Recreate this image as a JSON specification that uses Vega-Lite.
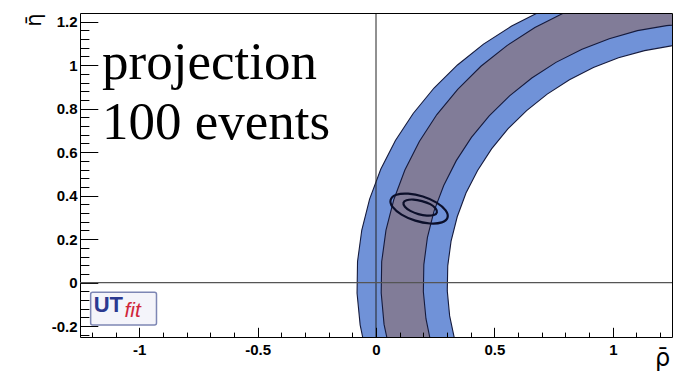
{
  "$schema": "https://vega.github.io/schema/vega-lite/v6.json",
  "width": 592,
  "height": 324,
  "autosize": "none",
  "padding": {"left": 80, "top": 13, "right": 8, "bottom": 34},
  "background": "white",
  "view": {"stroke": null},
  "datasets": {
    "blue": [
      {"i": 0, "rho": -0.040, "eta": -0.337}, {"i": 1, "rho": -0.067, "eta": -0.194}, {"i": 2, "rho": -0.080, "eta": -0.049},
      {"i": 3, "rho": -0.078, "eta": 0.097}, {"i": 4, "rho": -0.060, "eta": 0.242}, {"i": 5, "rho": -0.027, "eta": 0.384},
      {"i": 6, "rho": 0.020, "eta": 0.521}, {"i": 7, "rho": 0.082, "eta": 0.654}, {"i": 8, "rho": 0.157, "eta": 0.778},
      {"i": 9, "rho": 0.245, "eta": 0.895}, {"i": 10, "rho": 0.344, "eta": 1.001}, {"i": 11, "rho": 0.454, "eta": 1.097},
      {"i": 12, "rho": 0.573, "eta": 1.180}, {"i": 13, "rho": 0.701, "eta": 1.251}, {"i": 14, "rho": 0.835, "eta": 1.308},
      {"i": 15, "rho": 0.974, "eta": 1.351}, {"i": 16, "rho": 1.117, "eta": 1.378}, {"i": 17, "rho": 1.262, "eta": 1.391},
      {"i": 18, "rho": 1.408, "eta": 1.389}, {"i": 19, "rho": 1.553, "eta": 1.371},
      {"i": 20, "rho": 1.591, "eta": 1.083}, {"i": 21, "rho": 1.477, "eta": 1.097}, {"i": 22, "rho": 1.362, "eta": 1.099},
      {"i": 23, "rho": 1.247, "eta": 1.089}, {"i": 24, "rho": 1.134, "eta": 1.067}, {"i": 25, "rho": 1.024, "eta": 1.034},
      {"i": 26, "rho": 0.918, "eta": 0.989}, {"i": 27, "rho": 0.817, "eta": 0.933}, {"i": 28, "rho": 0.723, "eta": 0.867},
      {"i": 29, "rho": 0.636, "eta": 0.791}, {"i": 30, "rho": 0.557, "eta": 0.707}, {"i": 31, "rho": 0.488, "eta": 0.615},
      {"i": 32, "rho": 0.429, "eta": 0.516}, {"i": 33, "rho": 0.380, "eta": 0.412}, {"i": 34, "rho": 0.343, "eta": 0.303},
      {"i": 35, "rho": 0.317, "eta": 0.191}, {"i": 36, "rho": 0.303, "eta": 0.077}, {"i": 37, "rho": 0.301, "eta": -0.038},
      {"i": 38, "rho": 0.311, "eta": -0.153}, {"i": 39, "rho": 0.333, "eta": -0.266}
    ],
    "dark": [
      {"i": 0, "rho": 0.062, "eta": -0.335}, {"i": 1, "rho": 0.034, "eta": -0.192}, {"i": 2, "rho": 0.022, "eta": -0.048},
      {"i": 3, "rho": 0.024, "eta": 0.096}, {"i": 4, "rho": 0.042, "eta": 0.240}, {"i": 5, "rho": 0.075, "eta": 0.381},
      {"i": 6, "rho": 0.122, "eta": 0.518}, {"i": 7, "rho": 0.183, "eta": 0.649}, {"i": 8, "rho": 0.257, "eta": 0.773},
      {"i": 9, "rho": 0.345, "eta": 0.889}, {"i": 10, "rho": 0.443, "eta": 0.995}, {"i": 11, "rho": 0.553, "eta": 1.090},
      {"i": 12, "rho": 0.671, "eta": 1.173}, {"i": 13, "rho": 0.798, "eta": 1.243}, {"i": 14, "rho": 0.931, "eta": 1.300},
      {"i": 15, "rho": 1.069, "eta": 1.342}, {"i": 16, "rho": 1.212, "eta": 1.370}, {"i": 17, "rho": 1.356, "eta": 1.382},
      {"i": 18, "rho": 1.501, "eta": 1.380}, {"i": 19, "rho": 1.644, "eta": 1.362},
      {"i": 20, "rho": 1.600, "eta": 1.176}, {"i": 21, "rho": 1.476, "eta": 1.191}, {"i": 22, "rho": 1.351, "eta": 1.193},
      {"i": 23, "rho": 1.227, "eta": 1.182}, {"i": 24, "rho": 1.104, "eta": 1.159}, {"i": 25, "rho": 0.985, "eta": 1.122},
      {"i": 26, "rho": 0.870, "eta": 1.073}, {"i": 27, "rho": 0.760, "eta": 1.013}, {"i": 28, "rho": 0.658, "eta": 0.941},
      {"i": 29, "rho": 0.564, "eta": 0.859}, {"i": 30, "rho": 0.478, "eta": 0.767}, {"i": 31, "rho": 0.403, "eta": 0.668},
      {"i": 32, "rho": 0.339, "eta": 0.561}, {"i": 33, "rho": 0.286, "eta": 0.447}, {"i": 34, "rho": 0.245, "eta": 0.329},
      {"i": 35, "rho": 0.217, "eta": 0.207}, {"i": 36, "rho": 0.202, "eta": 0.083}, {"i": 37, "rho": 0.200, "eta": -0.042},
      {"i": 38, "rho": 0.211, "eta": -0.166}, {"i": 39, "rho": 0.234, "eta": -0.289}
    ],
    "ellipses": [
      {"c": "outer", "i": 0, "rho": 0.302, "eta": 0.299}, {"c": "outer", "i": 1, "rho": 0.278, "eta": 0.277},
      {"c": "outer", "i": 2, "rho": 0.228, "eta": 0.272}, {"c": "outer", "i": 3, "rho": 0.166, "eta": 0.285},
      {"c": "outer", "i": 4, "rho": 0.108, "eta": 0.313}, {"c": "outer", "i": 5, "rho": 0.070, "eta": 0.348},
      {"c": "outer", "i": 6, "rho": 0.062, "eta": 0.381}, {"c": "outer", "i": 7, "rho": 0.086, "eta": 0.404},
      {"c": "outer", "i": 8, "rho": 0.136, "eta": 0.409}, {"c": "outer", "i": 9, "rho": 0.198, "eta": 0.396},
      {"c": "outer", "i": 10, "rho": 0.256, "eta": 0.368}, {"c": "outer", "i": 11, "rho": 0.294, "eta": 0.332},
      {"c": "inner", "i": 0, "rho": 0.257, "eta": 0.323}, {"c": "inner", "i": 1, "rho": 0.244, "eta": 0.311},
      {"c": "inner", "i": 2, "rho": 0.215, "eta": 0.308}, {"c": "inner", "i": 3, "rho": 0.179, "eta": 0.315},
      {"c": "inner", "i": 4, "rho": 0.145, "eta": 0.330}, {"c": "inner", "i": 5, "rho": 0.122, "eta": 0.349},
      {"c": "inner", "i": 6, "rho": 0.116, "eta": 0.367}, {"c": "inner", "i": 7, "rho": 0.129, "eta": 0.379},
      {"c": "inner", "i": 8, "rho": 0.158, "eta": 0.382}, {"c": "inner", "i": 9, "rho": 0.194, "eta": 0.375},
      {"c": "inner", "i": 10, "rho": 0.229, "eta": 0.361}, {"c": "inner", "i": 11, "rho": 0.251, "eta": 0.342}
    ]
  },
  "resolve": {"axis": {"x": "independent", "y": "independent"}},
  "layer": [
    {
      "data": {"name": "blue"},
      "mark": {"type": "line", "fill": "#7092d8", "stroke": "#151a3c", "strokeWidth": 1.1, "clip": true, "interpolate": "linear"},
      "encoding": {
        "x": {"field": "rho", "type": "quantitative", "scale": {"domain": [-1.25, 1.25], "nice": false, "zero": false},
          "axis": {"orient": "bottom", "values": [-1, -0.5, 0, 0.5, 1], "tickSize": -9.7, "tickColor": "black", "labelPadding": 15.2,
            "labelExpr": "'' + datum.value", "labelFont": "Liberation Sans", "labelFontWeight": "bold", "labelFontSize": 15, "labelColor": "black",
            "domain": true, "domainColor": "black", "grid": false, "zindex": 1,
            "title": "ρ̄", "titleFont": "DejaVu Sans", "titleFontSize": 24, "titleFontWeight": "normal", "titleColor": "black",
            "titleX": 582, "titleY": 28, "titleAlign": "center", "titleBaseline": "alphabetic", "titleAnchor": null}},
        "y": {"field": "eta", "type": "quantitative", "scale": {"domain": [-0.25, 1.24], "nice": false, "zero": false},
          "axis": {"orient": "left", "values": [-0.2, 0, 0.2, 0.4, 0.6, 0.8, 1, 1.2], "tickSize": -17.8, "tickColor": "black", "labelPadding": 20.8,
            "labelExpr": "'' + datum.value", "labelFont": "Liberation Sans", "labelFontWeight": "bold", "labelFontSize": 15, "labelColor": "black",
            "domain": true, "domainColor": "black", "grid": false, "zindex": 0,
            "title": "η̄", "titleFont": "DejaVu Sans", "titleFontSize": 21, "titleFontWeight": "normal", "titleColor": "black",
            "titleX": -40, "titleY": 0, "titleAngle": 270, "titleAlign": "right", "titleBaseline": "alphabetic", "titleAnchor": null}},
        "order": {"field": "i", "type": "quantitative"}
      }
    },
    {
      "data": {"name": "dark"},
      "mark": {"type": "line", "fill": "#817c98", "stroke": "#151a3c", "strokeWidth": 1.1, "clip": true, "interpolate": "linear"},
      "encoding": {
        "x": {"field": "rho", "type": "quantitative", "scale": {"domain": [-1.25, 1.25], "nice": false, "zero": false},
          "axis": {"orient": "bottom", "values": [-1.2, -1.1, -0.9, -0.8, -0.7, -0.6, -0.4, -0.3, -0.2, -0.1, 0.1, 0.2, 0.3, 0.4, 0.6, 0.7, 0.8, 0.9, 1.1, 1.2],
            "tickSize": -4.9, "tickColor": "black", "labels": false, "domain": false, "grid": false, "title": null, "zindex": 1}},
        "y": {"field": "eta", "type": "quantitative", "scale": {"domain": [-0.25, 1.24], "nice": false, "zero": false},
          "axis": {"orient": "left", "values": [-0.24, -0.16, -0.12, -0.08, -0.04, 0.04, 0.08, 0.12, 0.16, 0.24, 0.28, 0.32, 0.36, 0.44, 0.48, 0.52, 0.56, 0.64, 0.68, 0.72, 0.76, 0.84, 0.88, 0.92, 0.96, 1.04, 1.08, 1.12, 1.16],
            "tickSize": -8.9, "tickColor": "black", "labels": false, "domain": false, "grid": false, "title": null, "zindex": 0}},
        "order": {"field": "i", "type": "quantitative"}
      }
    },
    {
      "data": {"values": [{"v": 0}]},
      "mark": {"type": "rule", "stroke": "#222222", "strokeWidth": 1},
      "encoding": {
        "x": {"field": "v", "type": "quantitative", "scale": {"domain": [-1.25, 1.25], "nice": false, "zero": false}, "axis": null}
      }
    },
    {
      "data": {"values": [{"v": 0}]},
      "mark": {"type": "rule", "stroke": "#555555", "strokeWidth": 1.2},
      "encoding": {
        "y": {"field": "v", "type": "quantitative", "scale": {"domain": [-0.25, 1.24], "nice": false, "zero": false}, "axis": null}
      }
    },
    {
      "data": {"name": "ellipses"},
      "mark": {"type": "line", "interpolate": "cardinal-closed", "stroke": "#0b0f2a", "strokeWidth": 2.2},
      "encoding": {
        "x": {"field": "rho", "type": "quantitative", "scale": {"domain": [-1.25, 1.25], "nice": false, "zero": false},
          "axis": {"orient": "top", "ticks": false, "labels": false, "domain": true, "domainColor": "black", "grid": false, "title": null, "zindex": 1}},
        "y": {"field": "eta", "type": "quantitative", "scale": {"domain": [-0.25, 1.24], "nice": false, "zero": false},
          "axis": {"orient": "right", "ticks": false, "labels": false, "domain": true, "domainColor": "black", "grid": false, "title": null, "zindex": 1}},
        "detail": {"field": "c", "type": "nominal"},
        "order": {"field": "i", "type": "quantitative"}
      }
    },
    {
      "data": {"values": [{"t": "projection", "rho": -1.157, "eta": 0.938}, {"t": "100 events", "rho": -1.157, "eta": 0.660}]},
      "mark": {"type": "text", "font": "Liberation Serif", "fontSize": 53, "align": "left", "baseline": "alphabetic", "color": "black"},
      "encoding": {
        "x": {"field": "rho", "type": "quantitative", "scale": {"domain": [-1.25, 1.25], "nice": false, "zero": false}, "axis": null},
        "y": {"field": "eta", "type": "quantitative", "scale": {"domain": [-0.25, 1.24], "nice": false, "zero": false}, "axis": null},
        "text": {"field": "t"}
      }
    },
    {
      "data": {"values": [{"x1": -1.205, "x2": -0.927, "y1": -0.044, "y2": -0.195}]},
      "mark": {"type": "rect", "fill": "#f4f4fa", "stroke": "#7d86b4", "strokeWidth": 1.5, "cornerRadius": 2},
      "encoding": {
        "x": {"field": "x1", "type": "quantitative", "scale": {"domain": [-1.25, 1.25], "nice": false, "zero": false}, "axis": null},
        "x2": {"field": "x2"},
        "y": {"field": "y1", "type": "quantitative", "scale": {"domain": [-0.25, 1.24], "nice": false, "zero": false}, "axis": null},
        "y2": {"field": "y2"}
      }
    },
    {
      "data": {"values": [{"t": "UT", "rho": -1.192, "eta": -0.137}]},
      "mark": {"type": "text", "font": "Liberation Sans", "fontSize": 22, "fontWeight": "bold", "align": "left", "baseline": "alphabetic", "color": "#2b3990"},
      "encoding": {
        "x": {"field": "rho", "type": "quantitative", "scale": {"domain": [-1.25, 1.25], "nice": false, "zero": false}, "axis": null},
        "y": {"field": "eta", "type": "quantitative", "scale": {"domain": [-0.25, 1.24], "nice": false, "zero": false}, "axis": null},
        "text": {"field": "t"}
      }
    },
    {
      "data": {"values": [{"t": "fit", "rho": -1.062, "eta": -0.156}]},
      "mark": {"type": "text", "font": "Liberation Sans", "fontSize": 21, "fontStyle": "italic", "align": "left", "baseline": "alphabetic", "color": "#d0263a"},
      "encoding": {
        "x": {"field": "rho", "type": "quantitative", "scale": {"domain": [-1.25, 1.25], "nice": false, "zero": false}, "axis": null},
        "y": {"field": "eta", "type": "quantitative", "scale": {"domain": [-0.25, 1.24], "nice": false, "zero": false}, "axis": null},
        "text": {"field": "t"}
      }
    }
  ]
}
